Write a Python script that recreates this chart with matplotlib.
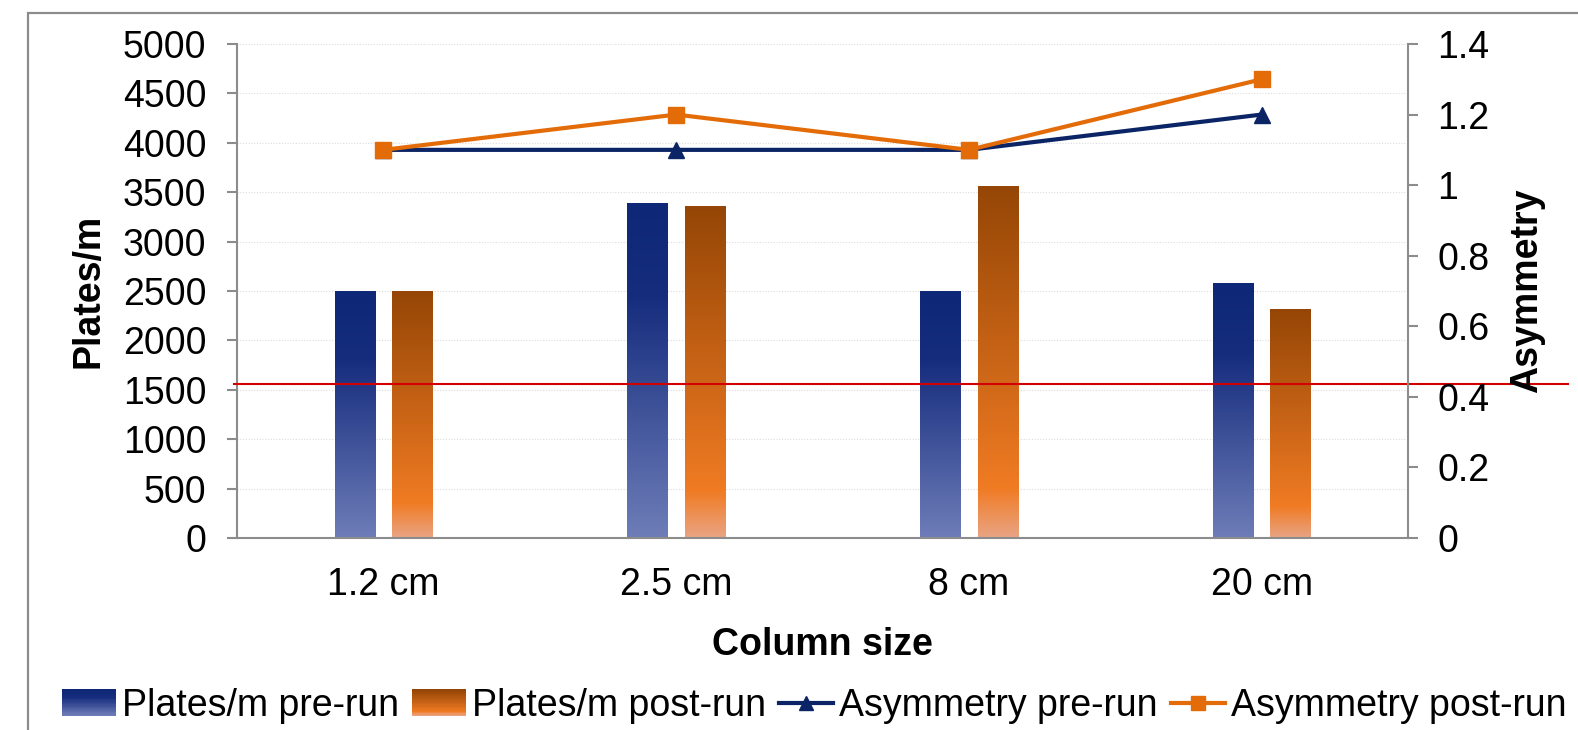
import numpy as np
import matplotlib
matplotlib.use("Agg")
import matplotlib.pyplot as plt
from matplotlib.colors import LinearSegmentedColormap
from matplotlib.lines import Line2D
from matplotlib.patches import Rectangle
from matplotlib.legend_handler import HandlerBase

plt.rcParams['font.family'] = ['Liberation Sans', 'DejaVu Sans']

# data
categories = ["1.2 cm", "2.5 cm", "8 cm", "20 cm"]
plates_pre = [2500, 3390, 2500, 2580]
plates_post = [2490, 3360, 3560, 2310]
asym_pre = [1.1, 1.1, 1.1, 1.2]
asym_post = [1.1, 1.2, 1.1, 1.3]
threshold = 1555

navy = "#0b2466"
orange = "#e36c09"
axis_gray = "#8c8c8c"
fs = 27

blue_cmap = LinearSegmentedColormap.from_list(
    "bl", [(0, "#6e7db8"), (0.72, "#162d7e"), (1, "#0f2777")])
orange_cmap = LinearSegmentedColormap.from_list(
    "or", [(0, "#e9a484"), (0.14, "#f07b23"), (1, "#954606")])

fig = plt.figure(figsize=(15.78, 7.3), dpi=100)
ax = fig.add_axes([237 / 1578, 1 - 538 / 730, (1408 - 237) / 1578, (538 - 44) / 730])
ax2 = ax.twinx()

# outer chart border
fig.patches.append(Rectangle((28 / 1578, -0.1), 1.2, 1 - 13 / 730 + 0.1,
                             transform=fig.transFigure, fill=False,
                             edgecolor=axis_gray, lw=1.6))

x = np.arange(len(categories))
w = 0.137
off = 0.098
grad = np.linspace(1, 0, 256).reshape(-1, 1)


def gradient_bars(xs, vals, cmap):
    for xc, v in zip(xs, vals):
        ax.imshow(grad, cmap=cmap, vmin=0, vmax=1, aspect="auto",
                  extent=[xc - w / 2, xc + w / 2, 0, v], zorder=2,
                  interpolation="bilinear")


gradient_bars(x - off, plates_pre, blue_cmap)
gradient_bars(x + off, plates_post, orange_cmap)

ax.set_xlim(-0.5, 3.5)
ax.set_ylim(0, 5000)
ax.set_yticks(range(0, 5001, 500))
ax.set_xticks(x)
ax.set_xticklabels(categories)
ax.grid(axis="y", color="#dcdcdc", linestyle=(0, (1, 1.5)), lw=0.8, zorder=0)
ax.set_axisbelow(True)

# threshold line
ax.plot([-0.5 - 3 / 293, 3.5 + 160 / 293], [threshold, threshold],
        color="#d40000", lw=1.5, clip_on=False, zorder=5)

ax2.plot(x, asym_pre, color=navy, lw=3, marker="^", markersize=11, zorder=4)
ax2.plot(x, asym_post, color=orange, lw=3, marker="s", markersize=11, zorder=4)
ax2.set_ylim(0, 1.4)
ax2.set_yticks([0, 0.2, 0.4, 0.6, 0.8, 1.0, 1.2, 1.4])
ax2.set_yticklabels(["0", "0.2", "0.4", "0.6", "0.8", "1", "1.2", "1.4"])

for a in (ax, ax2):
    for s in a.spines.values():
        s.set_visible(False)
ax.spines["left"].set_visible(True)
ax.spines["bottom"].set_visible(True)
ax2.spines["right"].set_visible(True)
for s in (ax.spines["left"], ax.spines["bottom"], ax2.spines["right"]):
    s.set_color(axis_gray)
    s.set_linewidth(1.5)

ax.tick_params(axis="y", labelsize=fs, length=7, width=1.5, color=axis_gray, pad=15)
ax.tick_params(axis="x", labelsize=fs, length=0, pad=21)
ax2.tick_params(axis="y", labelsize=fs, length=7, width=1.5, color=axis_gray, pad=14)

ax.set_ylabel("Plates/m", fontsize=fs, fontweight="bold", labelpad=12)
ax2.set_ylabel("Asymmetry", fontsize=fs, fontweight="bold", labelpad=14)
ax.set_xlabel("Column size", fontsize=fs, fontweight="bold", labelpad=17)


class GradHandle:
    def __init__(self, cmap):
        self.cmap = cmap


class GradHandler(HandlerBase):
    def create_artists(self, legend, orig, xd, yd, width, height, fontsize, trans):
        n = 20
        arts = []
        for i in range(n):
            r = Rectangle((xd, yd + height * i / n), width, height / n + 0.3,
                          facecolor=orig.cmap(i / (n - 1)), edgecolor="none",
                          transform=trans)
            arts.append(r)
        return arts


handles = [GradHandle(blue_cmap), GradHandle(orange_cmap),
           Line2D([], [], color=navy, lw=3, marker="^", markersize=10),
           Line2D([], [], color=orange, lw=3, marker="s", markersize=10)]
labels = ["Plates/m pre-run", "Plates/m post-run",
          "Asymmetry pre-run", "Asymmetry post-run"]
fig.legend(handles, labels, loc="center", bbox_to_anchor=(814 / 1578, 1 - 706 / 730),
           ncol=4, frameon=False, fontsize=fs, handlelength=1.45,
           handletextpad=0.15, columnspacing=0.35,
           handler_map={GradHandle: GradHandler()})

fig.savefig("out.png", dpi=100)
